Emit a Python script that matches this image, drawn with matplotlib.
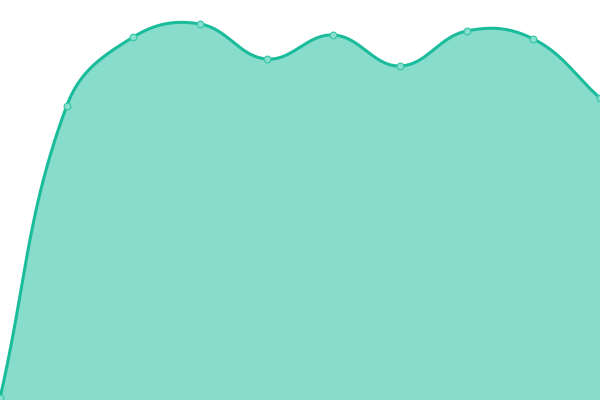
import numpy as np
import matplotlib
matplotlib.use("Agg")
import matplotlib.pyplot as plt

# data
categories = list(range(10))
values = [2, 294, 363, 376, 341, 365, 334, 369, 361, 302]

line_color = "#1abc9c"
fill_color = "#1abc9c"
tension = 0.4

fig = plt.figure(figsize=(6, 4), dpi=100)
ax = fig.add_axes([0, 0, 1, 1])
ax.set_xlim(0, 9)
ax.set_ylim(0, 400)

x = np.array(categories, dtype=float)
y = np.array(values, dtype=float)

# spline control points computed in display space (Chart.js-style)
P = ax.transData.transform(np.column_stack([x, y]))
n = len(P)
cp_prev = np.zeros_like(P)
cp_next = np.zeros_like(P)
for i in range(n):
    prev = P[i - 1] if i > 0 else P[i]
    nxt = P[i + 1] if i < n - 1 else P[i]
    cur = P[i]
    d01 = np.hypot(*(cur - prev))
    d12 = np.hypot(*(nxt - cur))
    tot = d01 + d12
    s01 = d01 / tot if tot else 0
    s12 = d12 / tot if tot else 0
    fa = tension * s01
    fb = tension * s12
    cp_prev[i] = cur - fa * (nxt - prev)
    cp_next[i] = cur + fb * (nxt - prev)

t = np.linspace(0, 1, 80)[:, None]
pts = []
for i in range(n - 1):
    p0, p1, p2, p3 = P[i], cp_next[i], cp_prev[i + 1], P[i + 1]
    b = (1 - t) ** 3 * p0 + 3 * (1 - t) ** 2 * t * p1 + 3 * (1 - t) * t ** 2 * p2 + t ** 3 * p3
    pts.append(b)
pts = np.vstack(pts)
curve = ax.transData.inverted().transform(pts)
cx, cy = curve[:, 0], curve[:, 1]

ax.fill_between(cx, 0, cy, color=fill_color, alpha=0.52, linewidth=0)
ax.plot(cx, cy, color=line_color, linewidth=2.2, solid_capstyle="round")
ax.plot(x, y, linestyle="none", marker="o", markersize=4.8,
        markerfacecolor="#8ae0cf", markeredgecolor="#3cc7a8", markeredgewidth=0.9,
        clip_on=False)

ax.axis("off")

fig.savefig("out.png", dpi=100)
